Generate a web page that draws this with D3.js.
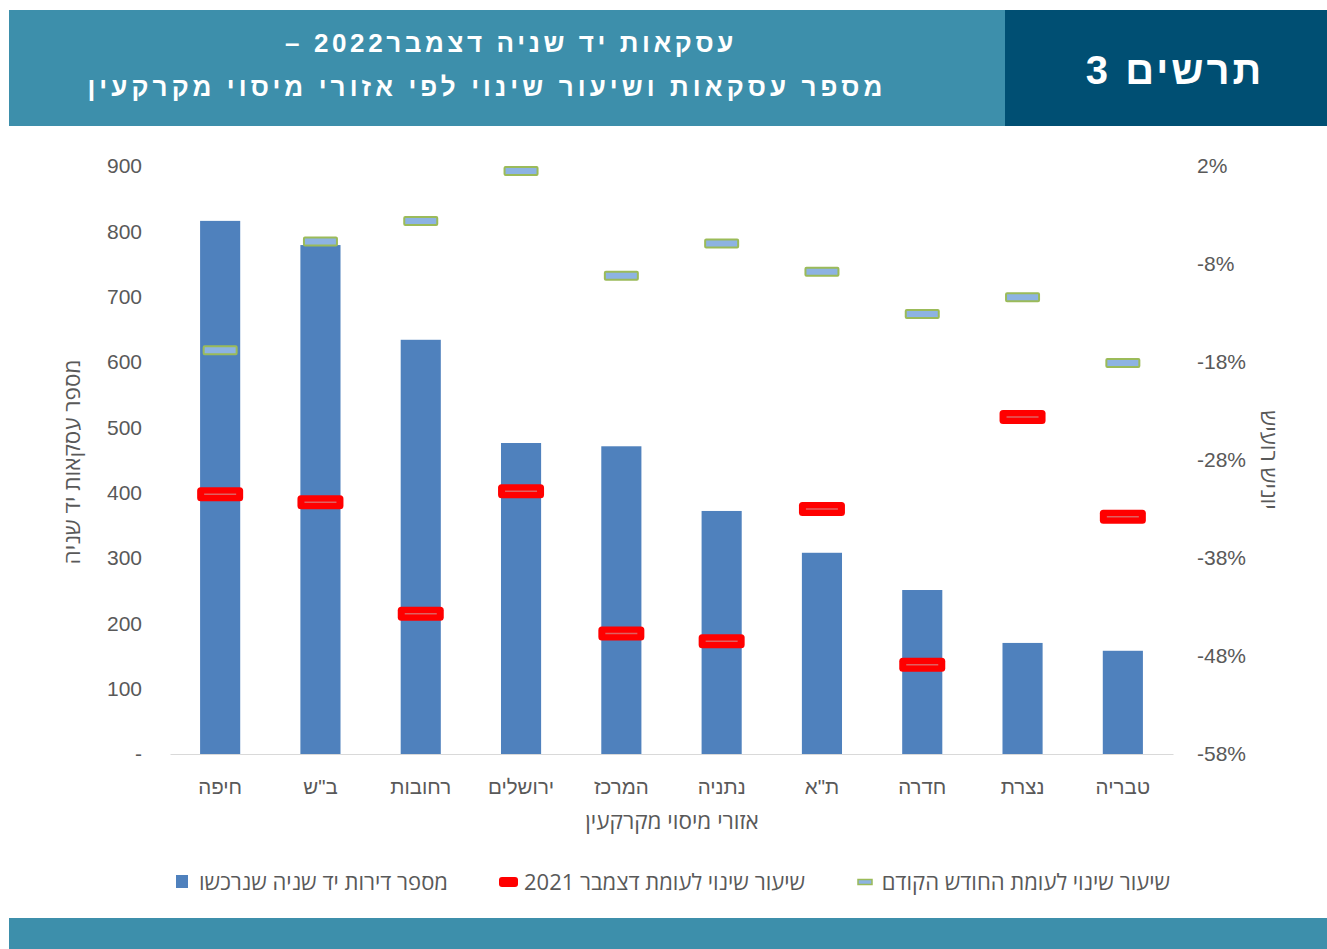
<!DOCTYPE html>
<html><head><meta charset="utf-8">
<script src="https://cdn.jsdelivr.net/npm/d3@7"></script>
<style>body{margin:0;background:#fff;} svg{display:block;font-family:"Open Sans","Liberation Sans",Arial,sans-serif;}</style>
</head><body>
<script>
const categories = ["חיפה","ב\"ש","רחובות","ירושלים","המרכז","נתניה","ת\"א","חדרה","נצרת","טבריה"];
const deals = [816, 779, 634, 476, 471, 372, 308, 251, 170, 158];
const changeVsDec2021 = [-31.5, -32.3, -43.7, -31.2, -45.7, -46.5, -33.0, -48.9, -23.6, -33.8];
const changeVsPrevMonth = [-16.8, -5.7, -3.6, 1.5, -9.2, -5.9, -8.8, -13.1, -11.4, -18.1];
const leftTicks = [0,100,200,300,400,500,600,700,800,900];
const rightTicks = [2,-8,-18,-28,-38,-48,-58];
const seriesNames = ["מספר דירות יד שניה שנרכשו","שיעור שינוי לעומת דצמבר 2021","שיעור שינוי לעומת החודש הקודם"];
const titleLine1 = "עסקאות יד שניה דצמבר2022 –";
const titleLine2 = "מספר עסקאות ושיעור שינוי לפי אזורי מיסוי מקרקעין";
const chartLabel = "תרשים 3";

const W = 1327, H = 949;
const svg = d3.select("body").append("svg").attr("width", W).attr("height", H);

// header
svg.append("rect").attr("x",9).attr("y",10).attr("width",W-9).attr("height",116).attr("fill","#3d8fab");
svg.append("rect").attr("x",1005).attr("y",10).attr("width",W-1005).attr("height",116).attr("fill","#004f73");
svg.append("text").attr("x",511).attr("y",52).attr("text-anchor","middle").attr("direction","rtl")
  .attr("fill","#fff").attr("font-weight","bold").attr("font-size",26).attr("letter-spacing",3.6)
  .style("font-family","'Liberation Sans',Arial,sans-serif").text(titleLine1);
svg.append("text").attr("x",487).attr("y",96).attr("text-anchor","middle").attr("direction","rtl")
  .attr("fill","#fff").attr("font-weight","bold").attr("font-size",26).attr("letter-spacing",4.1)
  .style("font-family","'Liberation Sans',Arial,sans-serif").text(titleLine2);
svg.append("text").attr("x",1175).attr("y",84).attr("text-anchor","middle").attr("direction","rtl")
  .attr("fill","#fff").attr("font-weight","bold").attr("font-size",40).attr("letter-spacing",3)
  .style("font-family","'Liberation Sans',Arial,sans-serif").text(chartLabel);

// footer
svg.append("rect").attr("x",9).attr("y",918).attr("width",W-9).attr("height",31).attr("fill","#3d8fab");

// scales
const x = d3.scaleBand().domain(categories).range([170,1173]).paddingInner(0.6).paddingOuter(0.3);
const yL = d3.scaleLinear().domain([0,900]).range([754,166]);
const yR = d3.scaleLinear().domain([-58,2]).range([754,166]);
const grey = "#595959";

// axes
const axL = svg.append("g").attr("transform","translate(142,0)")
  .call(d3.axisLeft(yL).tickValues(leftTicks).tickSize(0).tickPadding(0).tickFormat(d => d===0 ? "-" : d));
axL.select(".domain").remove();
axL.selectAll("text").attr("font-size",21).attr("fill",grey).style("font-family","inherit");

const axR = svg.append("g").attr("transform","translate(1197,0)")
  .call(d3.axisRight(yR).tickValues(rightTicks).tickSize(0).tickPadding(0).tickFormat(d => d + "%"));
axR.select(".domain").remove();
axR.selectAll("text").attr("font-size",21).attr("fill",grey).style("font-family","inherit");

// bars
svg.append("g").selectAll("rect").data(deals).join("rect")
  .attr("x",(d,i)=>x(categories[i])).attr("width",x.bandwidth())
  .attr("y",d=>yL(d)).attr("height",d=>yL(0)-yL(d)).attr("fill","#4f81bd");

// x axis
const axB = svg.append("g").attr("transform","translate(0,754)")
  .call(d3.axisBottom(x).tickSize(0).tickPadding(25));
axB.select(".domain").attr("stroke","#d9d9d9").attr("stroke-width",1.2);
axB.selectAll("text").attr("font-size",20.5).attr("fill",grey).style("font-family","inherit").attr("direction","rtl");

// markers: Dec 2021 (red)
const redG = svg.append("g").selectAll("g").data(changeVsDec2021).join("g")
  .attr("transform",(d,i)=>`translate(${x(categories[i])+x.bandwidth()/2},${yR(d)})`);
redG.append("rect").attr("x",-23).attr("y",-7).attr("width",46).attr("height",14).attr("rx",3.5).attr("fill","#ff0000");
redG.append("line").attr("x1",-16).attr("x2",16).attr("stroke","#e06060").attr("stroke-width",1.5);

// markers: prev month (green/blue)
const grnG = svg.append("g").selectAll("g").data(changeVsPrevMonth).join("g")
  .attr("transform",(d,i)=>`translate(${x(categories[i])+x.bandwidth()/2},${yR(d)})`);
grnG.append("rect").attr("x",-16.5).attr("y",-4).attr("width",33).attr("height",8).attr("rx",1)
  .attr("fill","#8db3e2").attr("stroke","#9bbb59").attr("stroke-width",2);

// axis titles
svg.append("text").attr("transform","translate(80,462) rotate(-90)").attr("text-anchor","middle").attr("direction","rtl")
  .attr("font-size",22.5).attr("fill",grey).text("מספר עסקאות יד שניה");
svg.append("text").attr("transform","translate(1261,460) rotate(90)").attr("text-anchor","middle")
  .style("direction","ltr").style("unicode-bidi","bidi-override")
  .attr("font-size",22.5).attr("fill",grey).text("שיעור שינוי");
svg.append("text").attr("x",672).attr("y",829).attr("text-anchor","middle").attr("direction","rtl")
  .attr("font-size",22.5).attr("fill",grey).text("אזורי מיסוי מקרקעין");

// legend
const legY = 882;
const leg = svg.append("g");
// item 3 (blue)
leg.append("rect").attr("x",176).attr("y",legY-7).attr("width",12).attr("height",13).attr("fill","#4f81bd");
leg.append("text").attr("x",448).attr("y",legY+8).attr("text-anchor","start").attr("direction","rtl")
  .attr("font-size",22).attr("fill",grey).text(seriesNames[0]);
// item 2 (red)
leg.append("rect").attr("x",499).attr("y",legY-5).attr("width",19).attr("height",10).attr("rx",3).attr("fill","#ff0000");
leg.append("text").attr("x",805).attr("y",legY+8).attr("text-anchor","start").attr("direction","rtl")
  .attr("font-size",22).attr("fill",grey).text(seriesNames[1]);
// item 1 (green)
leg.append("rect").attr("x",858).attr("y",legY-2.5).attr("width",14).attr("height",5).attr("fill","#8db3e2").attr("stroke","#9bbb59").attr("stroke-width",1.5);
leg.append("text").attr("x",1170).attr("y",legY+8).attr("text-anchor","start").attr("direction","rtl")
  .attr("font-size",22).attr("fill",grey).text(seriesNames[2]);
</script>
</body></html>
